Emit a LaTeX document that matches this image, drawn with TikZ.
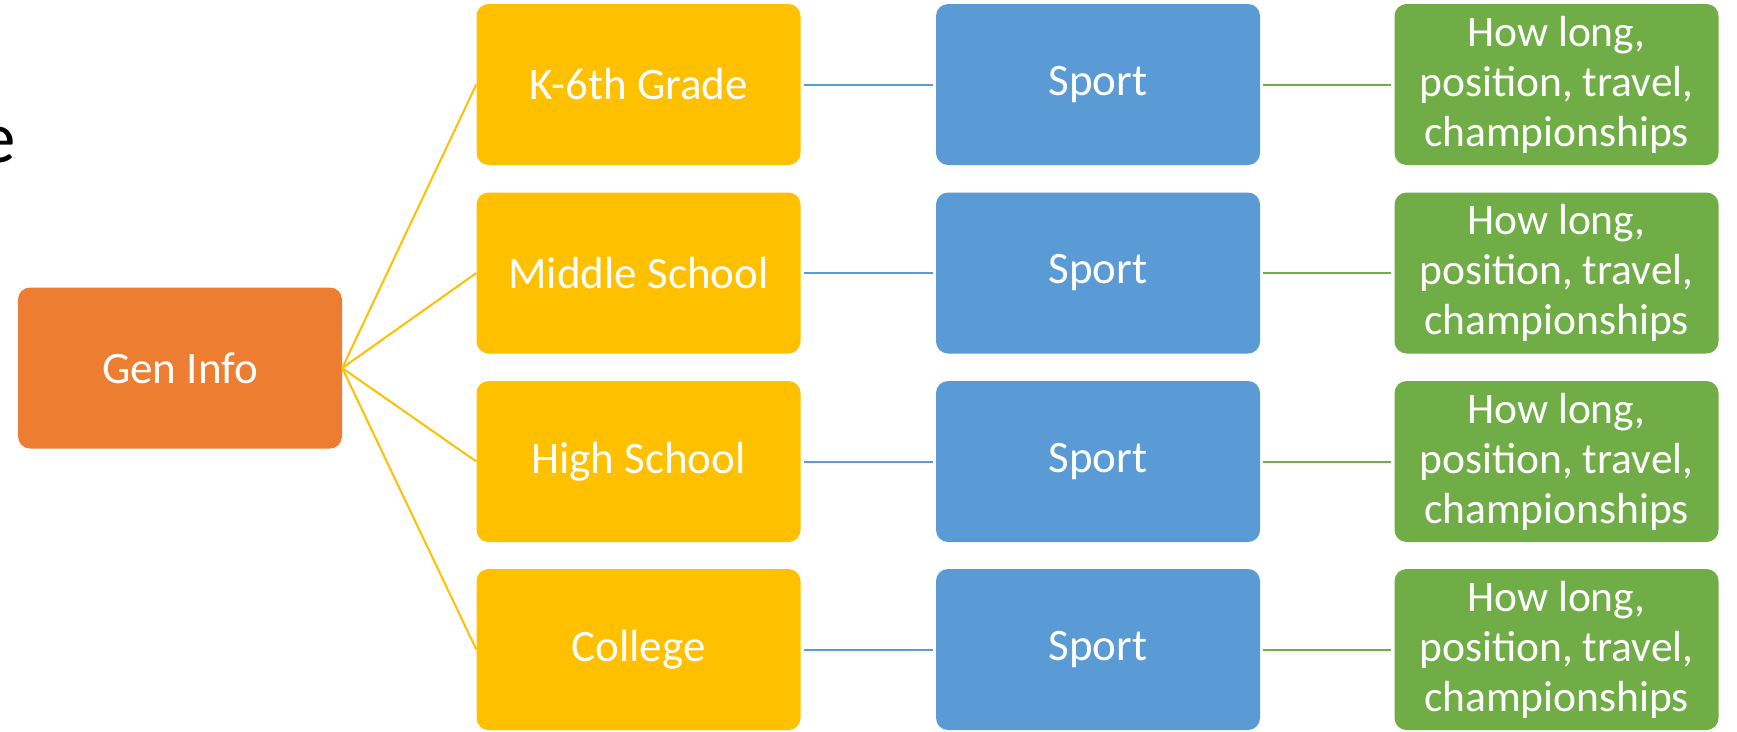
\documentclass[tikz,border=0pt]{standalone}
\usepackage{fontspec}
\setmainfont{Carlito}
\definecolor{cOrange}{HTML}{ED7D31}
\definecolor{cYellow}{HTML}{FFC000}
\definecolor{cBlue}{HTML}{5B9BD5}
\definecolor{cGreen}{HTML}{70AD47}
\begin{document}
\begin{tikzpicture}[x=1pt,y=-1pt,
  box/.style={rectangle, rounded corners=12pt, inner sep=0pt, align=center, text=white,
    minimum width=324pt, minimum height=161pt, font=\fontsize{45}{54}\selectfont},
  genbox/.style={box, fill=cOrange},
  gradebox/.style={box, fill=cYellow},
  sportbox/.style={box, fill=cBlue},
  detailbox/.style={box, fill=cGreen, font=\fontsize{43.5}{50}\selectfont},
  yline/.style={draw=cYellow, line width=2pt},
  bline/.style={draw=cBlue, line width=2pt, shorten <=3pt, shorten >=3pt},
  gline/.style={draw=cGreen, line width=2pt, shorten <=3pt, shorten >=3pt}]
\useasboundingbox (0,0) rectangle (1737,731);
\node[anchor=base east, inner sep=0pt, font=\fontsize{73}{80}\selectfont] (title) at (16,162) {e};
\node[genbox] (gen) at (180,368) {Gen Info};
\foreach \i/\y/\t in {1/84.5/K-6th Grade, 2/273/Middle School, 3/461.5/High School, 4/649.5/College}{
  \node[gradebox] (g\i) at (638.5,\y) {\t};
  \node[sportbox] (s\i) at (1098,\y) {Sport};
  \node[detailbox] (d\i) at (1556.5,\y) {How long,\\position, travel,\\championships};
  \draw[yline] (gen.east) -- (g\i.west);
  \draw[bline] (g\i.east) -- (s\i.west);
  \draw[gline] (s\i.east) -- (d\i.west);
}
\end{tikzpicture}
\end{document}
